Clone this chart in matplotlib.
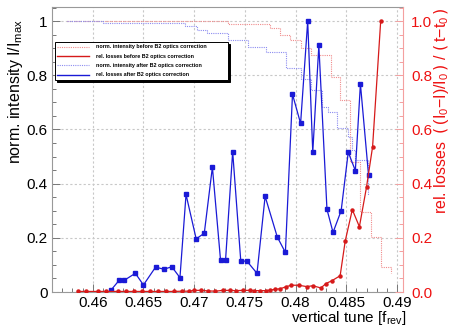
import matplotlib
matplotlib.use("Agg")
import matplotlib.pyplot as plt
from matplotlib.lines import Line2D
from matplotlib.ticker import MultipleLocator, FormatStrFormatter

plt.rcParams['font.family'] = ['Liberation Sans', 'DejaVu Sans']
plt.rcParams['mathtext.default'] = 'regular'

# --- data ---
# rel. losses after B2 optics correction (blue, left scale)
tune_after = [0.4618, 0.4626, 0.4631, 0.4642, 0.4650, 0.4662, 0.4670, 0.4678, 0.4686,
              0.4692, 0.4702, 0.4710, 0.4718, 0.4726, 0.4731, 0.4738, 0.4746, 0.4752,
              0.4762, 0.4770, 0.4782, 0.4790, 0.4797, 0.4805, 0.4812, 0.4817, 0.4823,
              0.4831, 0.4837, 0.4845, 0.4852, 0.4859, 0.4864, 0.4872]
loss_after = [0.007, 0.043, 0.043, 0.069, 0.026, 0.092, 0.084, 0.093, 0.053,
              0.360, 0.196, 0.217, 0.461, 0.119, 0.119, 0.518, 0.114, 0.114,
              0.069, 0.353, 0.203, 0.146, 0.730, 0.622, 1.000, 0.516, 0.910,
              0.305, 0.220, 0.300, 0.516, 0.448, 0.768, 0.432]

# rel. losses before B2 optics correction (red, right scale)
tune_before = [0.4585, 0.4593, 0.4605, 0.4613, 0.4625, 0.4633, 0.4641, 0.4649, 0.4656,
               0.4664, 0.4672, 0.4680, 0.4688, 0.4695, 0.4700, 0.4707, 0.4714, 0.4721,
               0.4728, 0.4735, 0.4741, 0.4748, 0.4755, 0.4759, 0.4765, 0.4771, 0.4775,
               0.4780, 0.4785, 0.4791, 0.4796, 0.4803, 0.4811, 0.4817, 0.4825, 0.4830,
               0.4836, 0.4844, 0.4849, 0.4856, 0.4863, 0.4870, 0.4876, 0.4884]
loss_before = [0.002, 0.002, 0.002, 0.002, 0.002, 0.002, 0.002, 0.002, 0.002,
               0.002, 0.002, 0.002, 0.003, 0.003, 0.006, 0.006, 0.004, 0.003,
               0.006, 0.006, 0.005, 0.006, 0.006, 0.005, 0.005, 0.005, 0.007,
               0.010, 0.012, 0.020, 0.025, 0.025, 0.020, 0.023, 0.015, 0.031,
               0.042, 0.060, 0.188, 0.304, 0.241, 0.387, 0.536, 1.000]

# norm. intensity (step curves)
tune_int_after = [0.4575, 0.4610, 0.4691, 0.4703, 0.4713, 0.4733, 0.4753, 0.4771,
                  0.4791, 0.4805, 0.4815, 0.4826, 0.4832, 0.4841, 0.4852, 0.4856,
                  0.4859, 0.4871]
int_after = [1.000, 0.993, 0.982, 0.967, 0.955, 0.932, 0.903, 0.887,
             0.825, 0.788, 0.745, 0.684, 0.665, 0.604, 0.573, 0.524,
             0.487, 0.358]
tune_int_before = [0.4575, 0.4733, 0.4775, 0.4785, 0.4795, 0.4805, 0.4815, 0.4835,
                   0.4844, 0.4854, 0.4864, 0.4874, 0.4884, 0.4894]
int_before = [1.000, 0.990, 0.973, 0.948, 0.930, 0.899, 0.875, 0.794,
              0.708, 0.480, 0.296, 0.204, 0.093, 0.070]

labels = ["norm. intensity before B2 optics correction",
          "rel. losses before B2 optics correction",
          "norm. intensity after B2 optics correction",
          "rel. losses after B2 optics correction"]

PINK = '#f08c8c'
LBLUE = '#8c8cf0'
RED = '#d61a1a'
BLUE = '#1a1ad6'
DOT = (0, (1, 1))

fig = plt.figure(figsize=(4.52, 3.28), dpi=100)
ax = fig.add_axes([52/452, 1-292/328, 351/452, 285/328])
ax2 = ax.twinx()

YMAX = 1.052
ax.set_xlim(0.45598, 0.4906)
ax.set_ylim(0, YMAX)
ax2.set_ylim(0, YMAX)

ax.grid(True, color='#c8c8c8', linestyle=(0, (2, 2)), linewidth=0.8)

ax.step(tune_int_before, int_before, where='post', color=PINK, linestyle=DOT, linewidth=0.8)
ax.step(tune_int_after, int_after, where='post', color=LBLUE, linestyle=DOT, linewidth=0.8)
ax.plot(tune_after, loss_after, color=BLUE, linewidth=0.9, marker='s', markersize=2.6)
ax2.plot(tune_before, loss_before, color=RED, linewidth=0.9, marker='o', markersize=2.2)

# axes styling (ROOT-ish)
for s in ['left', 'bottom', 'top']:
    ax.spines[s].set_color('#999999')
ax.spines['right'].set_visible(False)
for s in ['left', 'bottom', 'top']:
    ax2.spines[s].set_visible(False)
ax2.spines['right'].set_color('#f4a0a0')

ax.xaxis.set_major_locator(MultipleLocator(0.005))
ax.xaxis.set_minor_locator(MultipleLocator(0.001))
ax.yaxis.set_major_locator(MultipleLocator(0.2))
ax.yaxis.set_minor_locator(MultipleLocator(0.05))
ax.xaxis.set_major_formatter(FormatStrFormatter('%g'))
ax.yaxis.set_major_formatter(FormatStrFormatter('%g'))
ax.tick_params(axis='both', which='major', direction='in', length=6, width=0.7,
               color='#777777', labelsize=11, pad=3)
ax.tick_params(axis='both', which='minor', direction='in', length=3, width=0.7,
               color='#777777')
ax.tick_params(axis='x', pad=3)

ax2.yaxis.set_major_locator(MultipleLocator(0.2))
ax2.yaxis.set_minor_locator(MultipleLocator(0.05))
ax2.yaxis.set_major_formatter(FormatStrFormatter('%.1f'))
ax2.tick_params(axis='y', which='major', direction='in', length=6, width=0.7,
                color='#f4a0a0', labelcolor='#ee1111', labelsize=11, pad=6)
ax2.tick_params(axis='y', which='minor', direction='in', length=3, width=0.7,
                color='#f4a0a0')

# axis titles placed like the ROOT canvas
fig.text(16/452, 1-19/328, "norm. intensity I/I$_{max}$", rotation=90,
         ha='center', va='top', fontsize=11.5)
fig.text(406/452, 1-322/328, "vertical tune [f$_{rev}$]", ha='right',
         va='baseline', fontsize=11)
fig.text(442/452, 1-7/328,
         r"rel. losses  $\left(\, (I_0{-}I)/I_0 \,\right)$ / $\left(\, t{-}t_0 \,\right)$",
         rotation=90, ha='center', va='top', fontsize=11.5, color='#ee1111')

handles = [Line2D([], [], color=PINK, linestyle=DOT, linewidth=0.8),
           Line2D([], [], color=RED, linewidth=1.0),
           Line2D([], [], color=LBLUE, linestyle=DOT, linewidth=0.8),
           Line2D([], [], color=BLUE, linewidth=1.0)]
leg = ax.legend(handles, labels, loc='upper left', mode='expand',
                bbox_to_anchor=(55/452, 1-84/328, 173/452, 42/328),
                bbox_transform=fig.transFigure,
                prop={'weight': 'bold', 'size': 3.9},
                frameon=True, fancybox=False, edgecolor='black', framealpha=1,
                shadow={'color': 'black', 'alpha': 1, 'ox': 1.4, 'oy': -1.4},
                handlelength=5.8, handletextpad=1.3, labelspacing=0.8,
                borderpad=0.45, borderaxespad=0)
leg.get_frame().set_linewidth(0.7)
leg.set_zorder(5)

fig.savefig("out.png", dpi=100)
